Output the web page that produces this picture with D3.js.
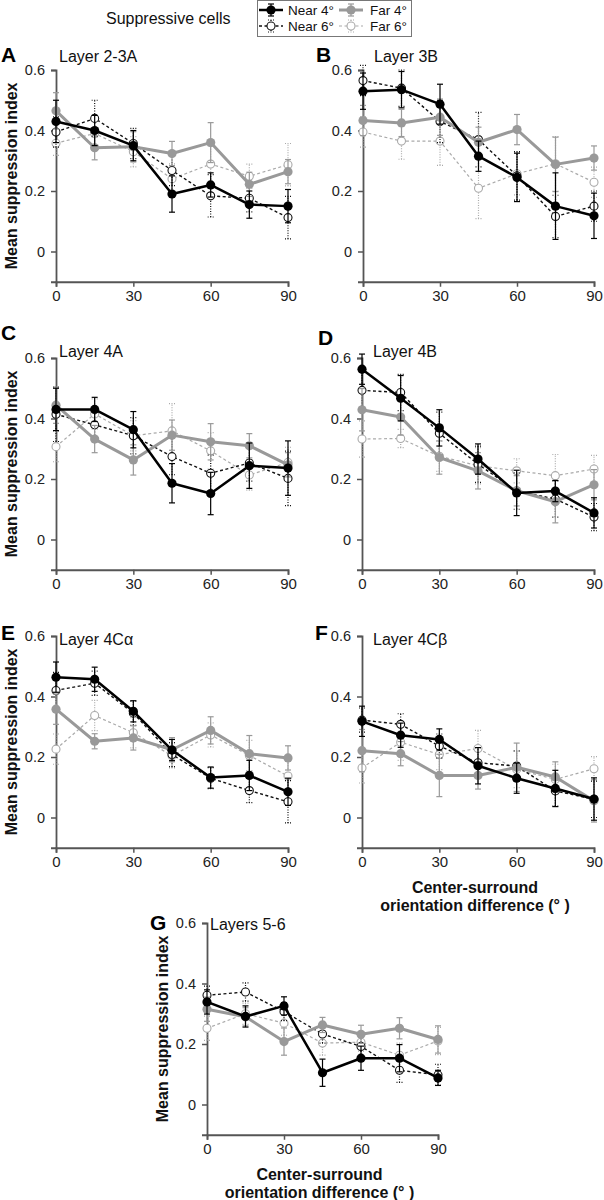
<!DOCTYPE html>
<html>
<head>
<meta charset="utf-8">
<script src="https://cdn.jsdelivr.net/npm/d3@7"></script>
<style>
body { margin: 0; background: #fff; }
svg { display: block; font-family: "Liberation Sans", Arial, sans-serif; }
</style>
</head>
<body>
<div id="chart"></div>
<script>
// orientation difference (deg) where each point sits
var angles = [0, 15, 30, 45, 60, 75, 90];
var xTicks = [0, 30, 60, 90];
var yTicks = [0, 0.2, 0.4, 0.6];
var panelLetters = ["A", "B", "C", "D", "E", "F", "G"];
var layerNames = ["Layer 2-3A", "Layer 3B", "Layer 4A", "Layer 4B", "Layer 4C\u03b1", "Layer 4C\u03b2", "Layers 5-6"];

// one row per panel (A..G), one value per angle
var near4 = [
    [0.43, 0.40, 0.35, 0.19, 0.22, 0.155, 0.15],
    [0.53, 0.535, 0.487, 0.315, 0.245, 0.15, 0.118],
    [0.43, 0.43, 0.363, 0.186, 0.152, 0.244, 0.236],
    [0.563, 0.467, 0.369, 0.266, 0.154, 0.16, 0.088],
    [0.464, 0.457, 0.351, 0.223, 0.132, 0.139, 0.085],
    [0.318, 0.272, 0.258, 0.171, 0.13, 0.096, 0.061],
    [0.339, 0.291, 0.326, 0.105, 0.153, 0.153, 0.088]
];
var near4Err = [
    [0.07, 0.05, 0.05, 0.06, 0.04, 0.045, 0.055],
    [0.06, 0.06, 0.066, 0.05, 0.08, 0.11, 0.075],
    [0.07, 0.04, 0.06, 0.065, 0.07, 0.075, 0.09],
    [0.05, 0.075, 0.06, 0.05, 0.075, 0.035, 0.05],
    [0.05, 0.04, 0.035, 0.035, 0.035, 0.05, 0.045],
    [0.05, 0.04, 0.035, 0.06, 0.05, 0.06, 0.07],
    [0.04, 0.035, 0.03, 0.045, 0.04, 0.045, 0.025]
];
var far4 = [
    [0.465, 0.343, 0.346, 0.324, 0.36, 0.222, 0.264],
    [0.433, 0.425, 0.444, 0.361, 0.403, 0.288, 0.309],
    [0.444, 0.332, 0.263, 0.345, 0.323, 0.31, 0.247],
    [0.429, 0.405, 0.271, 0.227, 0.161, 0.125, 0.181],
    [0.358, 0.252, 0.263, 0.224, 0.288, 0.211, 0.197],
    [0.221, 0.211, 0.139, 0.139, 0.166, 0.134, 0.055],
    [0.315, 0.29, 0.208, 0.263, 0.232, 0.252, 0.215]
];
var far4Err = [
    [0.06, 0.04, 0.05, 0.04, 0.066, 0.04, 0.04],
    [0.05, 0.045, 0.06, 0.05, 0.05, 0.09, 0.04],
    [0.06, 0.045, 0.05, 0.05, 0.06, 0.04, 0.04],
    [0.07, 0.06, 0.055, 0.06, 0.05, 0.07, 0.05],
    [0.05, 0.025, 0.04, 0.04, 0.045, 0.06, 0.04],
    [0.07, 0.04, 0.07, 0.045, 0.08, 0.05, 0.07],
    [0.04, 0.03, 0.045, 0.025, 0.03, 0.035, 0.045]
];
var near6 = [
    [0.395, 0.44, 0.357, 0.268, 0.184, 0.176, 0.112],
    [0.565, 0.54, 0.43, 0.37, 0.25, 0.116, 0.15],
    [0.414, 0.379, 0.343, 0.274, 0.219, 0.253, 0.202],
    [0.493, 0.486, 0.351, 0.249, 0.16, 0.134, 0.074],
    [0.42, 0.444, 0.345, 0.208, 0.13, 0.089, 0.052],
    [0.322, 0.308, 0.236, 0.181, 0.17, 0.088, 0.06],
    [0.361, 0.372, 0.307, 0.233, 0.192, 0.113, 0.098]
];
var near6Err = [
    [0.05, 0.06, 0.05, 0.05, 0.07, 0.045, 0.07],
    [0.05, 0.06, 0.07, 0.09, 0.08, 0.07, 0.05],
    [0.09, 0.05, 0.06, 0.06, 0.06, 0.06, 0.09],
    [0.06, 0.06, 0.07, 0.06, 0.06, 0.06, 0.045],
    [0.06, 0.04, 0.04, 0.04, 0.035, 0.04, 0.07],
    [0.04, 0.035, 0.04, 0.05, 0.05, 0.05, 0.06],
    [0.03, 0.03, 0.03, 0.03, 0.035, 0.04, 0.035]
];
var far6 = [
    [0.358, 0.39, 0.33, 0.24, 0.289, 0.249, 0.287],
    [0.395, 0.365, 0.365, 0.209, 0.257, 0.29, 0.229],
    [0.307, 0.415, 0.343, 0.359, 0.293, 0.213, 0.255],
    [0.332, 0.334, 0.275, 0.244, 0.227, 0.211, 0.233],
    [0.226, 0.337, 0.28, 0.204, 0.273, 0.205, 0.137],
    [0.164, 0.249, 0.208, 0.228, 0.159, 0.126, 0.161],
    [0.252, 0.3, 0.269, 0.203, 0.206, 0.163, 0.21]
];
var far6Err = [
    [0.04, 0.05, 0.05, 0.05, 0.06, 0.04, 0.07],
    [0.05, 0.06, 0.08, 0.1, 0.07, 0.09, 0.05],
    [0.05, 0.05, 0.05, 0.09, 0.06, 0.05, 0.05],
    [0.06, 0.03, 0.05, 0.06, 0.04, 0.07, 0.045],
    [0.05, 0.05, 0.05, 0.04, 0.04, 0.05, 0.05],
    [0.05, 0.06, 0.05, 0.06, 0.06, 0.05, 0.04],
    [0.04, 0.035, 0.04, 0.04, 0.03, 0.04, 0.045]
];

// panel placement on the page
var panels = [
    {left: 56, right: 288, top: 70, letterX: 1, letterY: 62, titleX: 59, titleY: 62, yTitle: true, xTitle: false},
    {left: 363, right: 594, top: 70, letterX: 316, letterY: 62, titleX: 374, titleY: 62, yTitle: false, xTitle: false},
    {left: 56, right: 288, top: 358, letterX: 1, letterY: 340, titleX: 59, titleY: 357, yTitle: true, xTitle: false},
    {left: 362, right: 594, top: 358, letterX: 318, letterY: 345, titleX: 373, titleY: 357, yTitle: false, xTitle: false},
    {left: 56, right: 288, top: 636, letterX: 1, letterY: 640, titleX: 59, titleY: 645, yTitle: true, xTitle: false},
    {left: 362, right: 594, top: 636, letterX: 315, letterY: 640, titleX: 373, titleY: 645, yTitle: false, xTitle: true},
    {left: 207, right: 438, top: 923, letterX: 150, letterY: 930, titleX: 210, titleY: 930, yTitle: true, xTitle: true}
];

// drawn back to front
var series = [
    {name: "Far 6\u00b0", mean: far6, err: far6Err, color: "#aaa", width: 1.2, dash: "3,2.5", open: true, errDash: "1,1.5"},
    {name: "Near 6\u00b0", mean: near6, err: near6Err, color: "#111", width: 1.4, dash: "3,2.5", open: true, errDash: "1,1.5"},
    {name: "Far 4\u00b0", mean: far4, err: far4Err, color: "#999", width: 3, dash: null, open: false, errDash: null},
    {name: "Near 4\u00b0", mean: near4, err: near4Err, color: "#000", width: 2.5, dash: null, open: false, errDash: null}
];

var axisColor = "#555";
var svg = d3.select("#chart").append("svg")
    .attr("width", 604)
    .attr("height", 1200);

function styleAxis(ax, size) {
    ax.select(".domain").attr("stroke", axisColor).attr("stroke-width", 1.8);
    ax.selectAll(".tick line").attr("stroke", axisColor).attr("stroke-width", 1.5);
    ax.selectAll(".tick text")
        .attr("fill", "#222")
        .attr("font-size", size + "px")
        .attr("font-family", "Liberation Sans, Arial, sans-serif");
    ax.attr("font-family", null).attr("font-size", null);
}

function drawPoint(g, cx, cy, s) {
    if (s.open) {
        g.append("circle").attr("cx", cx).attr("cy", cy).attr("r", 4)
            .attr("fill", "#fff").attr("stroke", s.color).attr("stroke-width", 1.1);
    } else {
        g.append("circle").attr("cx", cx).attr("cy", cy).attr("r", 4.6)
            .attr("fill", s.color);
    }
}

function drawErrBar(g, cx, y1, y2, s) {
    var eg = g.append("g")
        .attr("stroke", s.color)
        .attr("stroke-width", 1.2)
        .attr("stroke-dasharray", s.errDash);
    eg.append("line").attr("x1", cx).attr("x2", cx).attr("y1", y1).attr("y2", y2);
    eg.append("line").attr("x1", cx - 3).attr("x2", cx + 3).attr("y1", y1).attr("y2", y1).attr("stroke-dasharray", null);
    eg.append("line").attr("x1", cx - 3).attr("x2", cx + 3).attr("y1", y2).attr("y2", y2).attr("stroke-dasharray", null);
}

panels.forEach(function(p, i) {
    var x = d3.scaleLinear().domain([0, 90]).range([p.left, p.right]);
    var y = d3.scaleLinear().domain([-0.1, 0.6]).range([p.top + 211.75, p.top]);
    var g = svg.append("g");

    //AXES
    var xAx = g.append("g")
        .attr("transform", "translate(0," + y(-0.1) + ")")
        .call(d3.axisBottom(x).tickValues(xTicks).tickSize(5).tickSizeOuter(5).tickPadding(4));
    styleAxis(xAx, 15);

    var yAx = g.append("g")
        .attr("transform", "translate(" + p.left + ",0)")
        .call(d3.axisLeft(y).tickValues(yTicks).tickSize(5).tickSizeOuter(5).tickPadding(6)
            .tickFormat(function(d) { return d === 0 ? "0" : d3.format(".1f")(d); }));
    styleAxis(yAx, 14.5);

    //SERIES
    series.forEach(function(s) {
        var pts = angles.map(function(a, j) {
            return {a: a, m: s.mean[i][j], e: s.err[i][j]};
        });
        var sg = g.append("g");
        pts.forEach(function(d) {
            drawErrBar(sg, x(d.a), y(d.m - d.e), y(d.m + d.e), s);
        });
        sg.append("path")
            .datum(pts)
            .attr("fill", "none")
            .attr("stroke", s.color)
            .attr("stroke-width", s.width)
            .attr("stroke-dasharray", s.dash)
            .attr("stroke-linejoin", "round")
            .attr("d", d3.line().x(function(d) { return x(d.a); }).y(function(d) { return y(d.m); }));
        pts.forEach(function(d) {
            drawPoint(sg, x(d.a), y(d.m), s);
        });
    });

    //LABELS
    g.append("text")
        .attr("x", p.letterX).attr("y", p.letterY)
        .attr("font-size", "21px").attr("font-weight", "bold").attr("fill", "#000")
        .text(panelLetters[i]);
    g.append("text")
        .attr("x", p.titleX).attr("y", p.titleY)
        .attr("font-size", "16px").attr("fill", "#111")
        .text(layerNames[i]);

    if (p.yTitle) {
        g.append("text")
            .attr("transform", "translate(" + (p.left - 45) + "," + ((y(0.6) + y(-0.1)) / 2) + ") rotate(-90)")
            .attr("text-anchor", "middle")
            .attr("dy", "0.35em")
            .attr("font-size", "16px").attr("font-weight", "bold").attr("fill", "#111")
            .text("Mean suppression index");
    }
    if (p.xTitle) {
        var cx = (p.left + p.right) / 2 - 3;
        var base = y(-0.1);
        g.append("text")
            .attr("x", cx).attr("y", base + 45)
            .attr("text-anchor", "middle")
            .attr("font-size", "16px").attr("font-weight", "bold").attr("fill", "#111")
            .text("Center-surround");
        g.append("text")
            .attr("x", cx).attr("y", base + 63)
            .attr("text-anchor", "middle")
            .attr("font-size", "16px").attr("font-weight", "bold").attr("fill", "#111")
            .text("orientation difference (\u00b0 )");
    }
});

//LEGEND
svg.append("text")
    .attr("x", 106).attr("y", 24)
    .attr("font-size", "16px").attr("fill", "#111")
    .text("Suppressive cells");

var legend = svg.append("g");
legend.append("rect")
    .attr("x", 257.5).attr("y", 0.5)
    .attr("width", 154).attr("height", 36)
    .attr("fill", "#fff").attr("stroke", "#777").attr("stroke-width", 1);

var legendOrder = [series[3], series[2], series[1], series[0]];
legendOrder.forEach(function(s, k) {
    var col = k % 2, row = Math.floor(k / 2);
    var sx = col === 0 ? 271 : 351;
    var tx = col === 0 ? 288 : 370;
    var sy = row === 0 ? 10 : 26;
    legend.append("line")
        .attr("x1", sx - 12).attr("x2", sx + 12).attr("y1", sy).attr("y2", sy)
        .attr("stroke", s.color).attr("stroke-width", s.width)
        .attr("stroke-dasharray", s.dash);
    drawErrBar(legend, sx, sy - 6, sy + 6, s);
    drawPoint(legend, sx, sy, s);
    legend.append("text")
        .attr("x", tx).attr("y", sy + 5)
        .attr("font-size", "13.5px").attr("fill", "#111")
        .text(s.name);
});
</script>
</body>
</html>
